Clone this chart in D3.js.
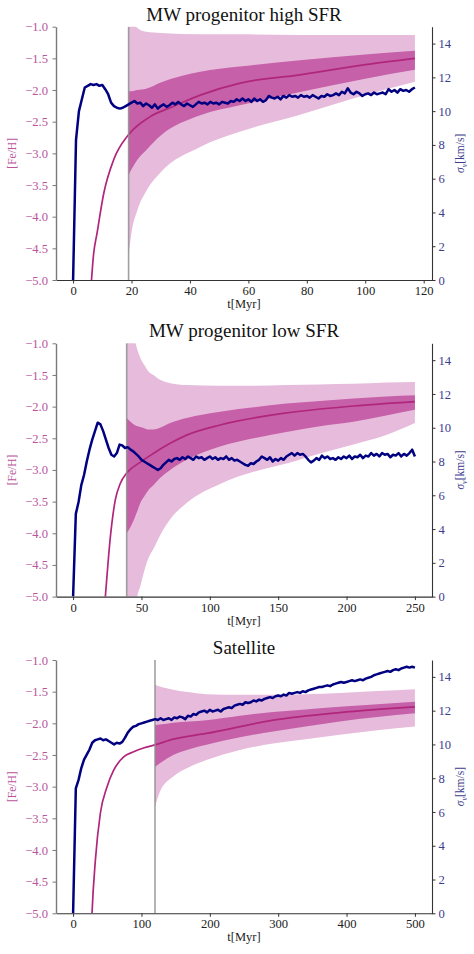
<!DOCTYPE html>
<html>
<head>
<meta charset="utf-8">
<script src="https://cdn.jsdelivr.net/npm/d3@7"></script>
<style>
  html, body { margin: 0; padding: 0; background: #fff; }
  svg text { font-family: "Liberation Serif", "DejaVu Serif", serif !important; }
</style>
</head>
<body>
<script>
// ---------------- DATA ----------------
const titles = ["MW progenitor high SFR", "MW progenitor low SFR", "Satellite"];
const tMax = [117, 250, 500];
const xTicks1 = [0, 20, 40, 60, 80, 100, 120];
const xTicks2 = [0, 50, 100, 150, 200, 250];
const xTicks3 = [0, 100, 200, 300, 400, 500];
const fehTicks = [-5.0, -4.5, -4.0, -3.5, -3.0, -2.5, -2.0, -1.5, -1.0];
const sigTicks = [0, 2, 4, 6, 8, 10, 12, 14];
const tCut = [19, 39.2, 119.8];

// velocity dispersion sigma_v [km/s]
const sigStep = [1, 2, 4];
const sig1 = [
  0, 8.3, 10.0, 10.7, 11.4, 11.5, 11.6, 11.55, 11.6, 11.5,
  11.55, 11.3, 11.0, 10.5, 10.3, 10.2, 10.15, 10.2, 10.3, 10.4,
  10.5, 10.6, 10.45, 10.5, 10.3, 10.45, 10.35, 10.2, 10.4, 10.15,
  10.3, 10.4, 10.25, 10.35, 10.5, 10.4, 10.55, 10.4, 10.3, 10.45,
  10.35, 10.25, 10.4, 10.55, 10.45, 10.5, 10.4, 10.55, 10.45, 10.5,
  10.4, 10.55, 10.5, 10.45, 10.6, 10.55, 10.7, 10.6, 10.75, 10.6,
  10.7, 10.55, 10.75, 10.6, 10.7, 10.55, 10.65, 10.9, 10.8, 10.75,
  10.85, 10.7, 10.9, 10.8, 10.95, 10.85, 10.9, 10.8, 10.95, 10.85,
  10.9, 10.8, 10.95, 10.85, 10.75, 10.9, 10.85, 11.0, 10.9, 10.95,
  11.05, 10.95, 11.15, 11.05, 11.35, 11.1, 11.0, 11.15, 11.05, 10.9,
  11.0, 11.05, 10.95, 11.1, 11.0, 11.05, 11.1, 11.0, 11.3, 11.15,
  11.25, 11.1, 11.3, 11.2, 11.25, 11.15, 11.3, 11.4
];
const sig2 = [
  0, 4.9, 5.6, 6.6, 7.2, 8.0, 8.7, 9.3, 9.8, 10.3,
  10.2, 9.8, 9.3, 8.8, 8.4, 8.3, 8.5, 9.0, 8.95, 8.8,
  8.85, 8.7, 8.6, 8.45, 8.3, 8.1, 8.0, 7.9, 7.8, 7.7,
  7.6, 7.5, 7.6, 7.8, 7.95, 8.1, 8.0, 8.15, 8.2, 8.1,
  8.25, 8.15, 8.3, 8.2, 8.1, 8.3, 8.2, 8.25, 8.1, 8.2,
  8.3, 8.15, 8.25, 8.1, 8.2, 8.15, 8.3, 8.1, 8.2, 8.05,
  8.1, 8.0, 7.9, 7.8, 7.75, 7.9, 7.85, 8.0, 8.1, 8.3,
  8.2, 8.1, 8.25, 8.0, 8.15, 8.05, 8.2, 8.1, 8.3, 8.4,
  8.5, 8.35, 8.5, 8.4, 8.45, 8.3, 8.1, 7.95, 8.05, 8.2,
  8.1, 8.35, 8.2, 8.3, 8.15, 8.2, 8.1, 8.25, 8.15, 8.3,
  8.2, 8.35, 8.15, 8.3, 8.25, 8.4, 8.2, 8.35, 8.3, 8.5,
  8.35, 8.45, 8.3, 8.5, 8.4, 8.45, 8.25, 8.4, 8.35, 8.5,
  8.3, 8.45, 8.35, 8.5, 8.7, 8.3
];
const sig3 = [
  0, 7.4, 7.9, 8.6, 9.1, 9.4, 9.7, 10.1, 10.25, 10.3,
  10.35, 10.25, 10.3, 10.2, 10.1, 10.0, 10.1, 10.05, 10.15, 10.4,
  10.7, 10.9, 11.05, 11.1, 11.2, 11.25, 11.3, 11.35, 11.4, 11.45,
  11.5, 11.45, 11.55, 11.45, 11.5, 11.55, 11.45, 11.6, 11.55, 11.65,
  11.6, 11.5, 11.7, 11.65, 11.8, 11.75, 11.9, 11.95, 12.0, 11.9,
  12.05, 11.95, 12.0, 12.05, 11.95, 12.1, 12.15, 12.2, 12.15, 12.3,
  12.35, 12.4, 12.35, 12.5, 12.45, 12.5, 12.6, 12.55, 12.65, 12.6,
  12.7, 12.75, 12.8, 12.75, 12.85, 12.9, 12.85, 12.95, 12.9, 13.05,
  13.0, 13.05, 13.1, 13.05, 13.15, 13.1, 13.2, 13.25, 13.3, 13.35,
  13.4, 13.4, 13.45, 13.5, 13.45, 13.55, 13.6, 13.65, 13.7, 13.65,
  13.7, 13.75, 13.8, 13.75, 13.8, 13.85, 13.8, 13.9, 13.95, 14.0,
  14.1, 14.15, 14.2, 14.25, 14.3, 14.35, 14.3, 14.4, 14.45, 14.4,
  14.5, 14.55, 14.6, 14.55, 14.6, 14.55
];

// median [Fe/H]
const medT1 = [6.0, 7, 8.2, 10.5, 13.9, 18.9, 26.4, 34.3, 43.5, 57.2, 77.7, 100, 117];
const med1  = [-5.2, -4.6, -4.26, -3.63, -3.1, -2.71, -2.42, -2.26, -2.08, -1.89, -1.76, -1.6, -1.5];
const medT2 = [22.5, 23.6, 27.3, 30.9, 34.6, 39.2, 49, 58.7, 71, 83, 107.5, 156, 205, 250];
const med2  = [-5.3, -5.0, -4.05, -3.47, -3.21, -3.05, -2.88, -2.74, -2.58, -2.45, -2.29, -2.1, -1.99, -1.92];
const medT3 = [26, 27.7, 32.6, 39.9, 49.7, 59.4, 74, 88.6, 103, 119.8, 146.5, 195, 292.6, 390, 500];
const med3  = [-5.5, -5.0, -4.16, -3.42, -3.0, -2.74, -2.53, -2.45, -2.39, -2.34, -2.25, -2.16, -1.95, -1.83, -1.74];

// spread bands
const bandT1   = [19, 20, 22, 25, 30, 43.5, 57, 77.7, 100, 117];
const outerHi1 = [-0.8, -0.9, -1.02, -1.08, -1.1, -1.12, -1.12, -1.13, -1.13, -1.13];
const outerLo1 = [-4.6, -4.25, -3.9, -3.6, -3.3, -2.9, -2.66, -2.39, -2.08, -1.87];
const innerHi1 = [-2.02, -2.02, -2.0, -1.98, -1.88, -1.71, -1.63, -1.53, -1.44, -1.38];
const innerLo1 = [-3.34, -3.25, -3.1, -2.95, -2.72, -2.4, -2.24, -2.03, -1.82, -1.68];

const bandT2   = [39.2, 42, 45, 47, 49, 52, 55, 58.7, 64, 71, 83, 107.5, 132, 156, 180.5, 205, 229, 250];
const outerHi2 = [-0.5, -0.75, -0.95, -1.1, -1.22, -1.34, -1.44, -1.5, -1.58, -1.63, -1.66, -1.67, -1.67, -1.66, -1.65, -1.64, -1.62, -1.61];
const outerLo2 = [-7.0, -6.2, -5.4, -5.0, -4.85, -4.6, -4.4, -4.25, -4.02, -3.78, -3.52, -3.22, -3.03, -2.9, -2.74, -2.6, -2.45, -2.26];
const innerHi2 = [-2.18, -2.24, -2.29, -2.31, -2.32, -2.34, -2.36, -2.36, -2.33, -2.26, -2.18, -2.08, -2.01, -1.95, -1.91, -1.87, -1.84, -1.82];
const innerLo2 = [-4.0, -3.9, -3.76, -3.65, -3.53, -3.42, -3.32, -3.24, -3.12, -3.0, -2.84, -2.63, -2.5, -2.4, -2.31, -2.24, -2.14, -2.05];

const bandT3   = [119.8, 127, 146.5, 170, 195, 244, 292.6, 340, 390, 445, 500];
const outerHi3 = [-1.39, -1.42, -1.47, -1.51, -1.54, -1.55, -1.55, -1.54, -1.52, -1.49, -1.46];
const outerLo3 = [-3.32, -3.08, -2.84, -2.69, -2.58, -2.42, -2.32, -2.25, -2.18, -2.11, -2.05];
const innerHi3 = [-2.03, -2.02, -1.99, -1.97, -1.95, -1.88, -1.82, -1.78, -1.74, -1.7, -1.66];
const innerLo3 = [-2.69, -2.63, -2.5, -2.41, -2.34, -2.22, -2.13, -2.05, -1.97, -1.9, -1.84];

// ---------------- ASSEMBLY ----------------
const panels = [
  {title: titles[0], tMax: tMax[0], xTicks: xTicks1, cut: tCut[0], sig: sig1, step: sigStep[0],
   medT: medT1, med: med1, bandT: bandT1, oHi: outerHi1, oLo: outerLo1, iHi: innerHi1, iLo: innerLo1},
  {title: titles[1], tMax: tMax[1], xTicks: xTicks2, cut: tCut[1], sig: sig2, step: sigStep[1],
   medT: medT2, med: med2, bandT: bandT2, oHi: outerHi2, oLo: outerLo2, iHi: innerHi2, iLo: innerLo2},
  {title: titles[2], tMax: tMax[2], xTicks: xTicks3, cut: tCut[2], sig: sig3, step: sigStep[2],
   medT: medT3, med: med3, bandT: bandT3, oHi: outerHi3, oLo: outerLo3, iHi: innerHi3, iLo: innerLo3}
];

const W = 474, H = 954;
const L = 56, R = 432, plotH = 253.3;
const tops = [26.7, 343.3, 660];
const FONT = '"Liberation Serif", "DejaVu Serif", serif';

const C = {
  outer: "#e7bbdb", inner: "#c660a9", med: "#b0267c", blue: "#000080",
  pinkText: "#b8559d", navyText: "#3d3d8e", vline: "#8f8f8f",
  spineL: "#7a7a7a", spine: "#333333", text: "#222222"
};

const svg = d3.select("body").append("svg").attr("width", W).attr("height", H)
  .attr("font-family", FONT);

panels.forEach((p, i) => {
  const top = tops[i], bottom = top + plotH;
  const x = d3.scaleLinear().domain([-0.05 * p.tMax, 1.05 * p.tMax]).range([L, R]);
  const y = d3.scaleLinear().domain([-5, -1]).range([bottom, top]);
  const y2 = d3.scaleLinear().domain([0, 15]).range([bottom, top]);

  const g = svg.append("g");
  const clipId = "clip" + i;
  svg.append("clipPath").attr("id", clipId)
    .append("rect").attr("x", L).attr("y", top).attr("width", R - L).attr("height", plotH);
  const pg = g.append("g").attr("clip-path", `url(#${clipId})`);

  const band = p.bandT.map((t, k) => ({t, oHi: p.oHi[k], oLo: p.oLo[k], iHi: p.iHi[k], iLo: p.iLo[k]}));
  pg.append("path").datum(band)
    .attr("fill", C.outer)
    .attr("d", d3.area().curve(d3.curveMonotoneX).x(d => x(d.t)).y0(d => y(d.oLo)).y1(d => y(d.oHi)));
  pg.append("path").datum(band)
    .attr("fill", C.inner)
    .attr("d", d3.area().curve(d3.curveMonotoneX).x(d => x(d.t)).y0(d => y(d.iLo)).y1(d => y(d.iHi)));

  const med = p.medT.map((t, k) => ({t, v: p.med[k]}));
  pg.append("path").datum(med)
    .attr("fill", "none").attr("stroke", C.med).attr("stroke-width", 1.7)
    .attr("d", d3.line().curve(d3.curveMonotoneX).x(d => x(d.t)).y(d => y(d.v)));

  pg.append("line")
    .attr("x1", x(p.cut)).attr("x2", x(p.cut)).attr("y1", top).attr("y2", bottom)
    .attr("stroke", C.vline).attr("stroke-width", 1.6).attr("stroke-opacity", 0.85);

  const sig = p.sig.map((v, k) => ({t: k * p.step, v}));
  pg.append("path").datum(sig)
    .attr("fill", "none").attr("stroke", C.blue).attr("stroke-width", 2.5)
    .attr("stroke-linejoin", "round")
    .attr("d", d3.line().x(d => x(d.t)).y(d => y2(d.v)));

  // axes
  const styleTicks = (sel, color) => sel.selectAll(".tick text")
    .attr("fill", color).attr("font-family", FONT).style("font-family", FONT).style("font-size", "12.6px");

  const ax = g.append("g").attr("transform", `translate(0,${bottom})`)
    .call(d3.axisBottom(x).tickValues(p.xTicks).tickSize(3.5).tickSizeOuter(0).tickPadding(2.5));
  ax.attr("font-family", FONT);
  ax.select(".domain").attr("stroke", C.spine).attr("stroke-width", 1.1);
  ax.selectAll(".tick line").attr("stroke", C.spine);
  styleTicks(ax, C.text);

  const ay = g.append("g").attr("transform", `translate(${L},0)`)
    .call(d3.axisLeft(y).tickValues(fehTicks).tickFormat(d3.format(".1f")).tickSize(3.5).tickSizeOuter(0).tickPadding(4.5));
  ay.attr("font-family", FONT);
  ay.select(".domain").attr("stroke", C.spineL).attr("stroke-width", 1.4);
  ay.selectAll(".tick line").attr("stroke", C.spineL);
  styleTicks(ay, C.pinkText);

  const ay2 = g.append("g").attr("transform", `translate(${R},0)`)
    .call(d3.axisRight(y2).tickValues(sigTicks).tickSize(3.5).tickSizeOuter(0).tickPadding(3));
  ay2.attr("font-family", FONT);
  ay2.select(".domain").attr("stroke", C.spine).attr("stroke-width", 1.1);
  ay2.selectAll(".tick line").attr("stroke", C.spine);
  styleTicks(ay2, C.navyText);

  // title
  g.append("text").attr("x", (L + R) / 2).attr("y", top - 6)
    .attr("text-anchor", "middle").attr("fill", "#111").style("font-size", "19px")
    .text(p.title);

  // x label
  g.append("text").attr("x", (L + R) / 2).attr("y", bottom + 28)
    .attr("text-anchor", "middle").attr("fill", C.text).style("font-size", "12.5px")
    .text("t[Myr]");

  // left y label
  g.append("text").attr("transform", `translate(15.5,${(top + bottom) / 2}) rotate(-90)`)
    .attr("text-anchor", "middle").attr("fill", C.pinkText).style("font-size", "11.5px")
    .text("[Fe/H]");

  // right y label
  const rl = g.append("text").attr("transform", `translate(464,${(top + bottom) / 2}) rotate(-90)`)
    .attr("text-anchor", "middle").attr("fill", C.navyText).style("font-size", "11.5px");
  rl.append("tspan").style("font-style", "italic").text("σ");
  rl.append("tspan").style("font-style", "italic").style("font-size", "8px").attr("dy", 2.5).text("v");
  rl.append("tspan").attr("dy", -2.5).text("[km/s]");
});
</script>
</body>
</html>
